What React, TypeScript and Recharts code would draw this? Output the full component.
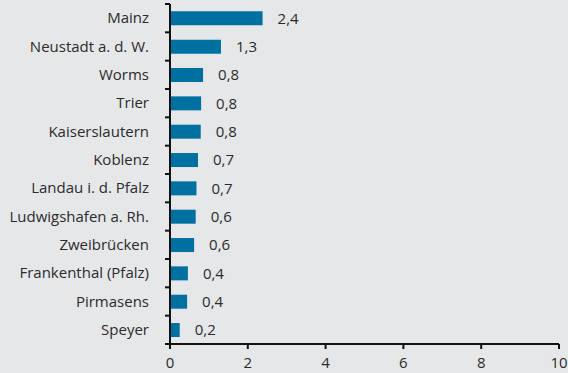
import React from 'react';
import { BarChart, Bar, XAxis, YAxis, LabelList } from 'recharts';

const cities = [
  'Mainz',
  'Neustadt a. d. W.',
  'Worms',
  'Trier',
  'Kaiserslautern',
  'Koblenz',
  'Landau i. d. Pfalz',
  'Ludwigshafen a. Rh.',
  'Zweibrücken',
  'Frankenthal (Pfalz)',
  'Pirmasens',
  'Speyer',
];
const values = [2.38, 1.31, 0.85, 0.8, 0.79, 0.72, 0.68, 0.66, 0.62, 0.46, 0.44, 0.25];
const valueLabels = ['2,4', '1,3', '0,8', '0,8', '0,8', '0,7', '0,7', '0,6', '0,6', '0,4', '0,4', '0,2'];
const xTicks = [0, 2, 4, 6, 8, 10];

const W = 568;
const H = 373;
const margin = { top: 4, right: 9, left: 0, bottom: 0 };
const yAxisWidth = 170;
const xAxisHeight = 29;
const band = (H - margin.top - margin.bottom - xAxisHeight) / cities.length;

const font = '"Open Sans", sans-serif';
const textColor = '#2b2b2b';
const axisColor = '#111111';
const lineW = 2;

const CityTick = (props: any) => {
  const { y, payload, index } = props;
  const x = yAxisWidth + margin.left;
  const last = index === cities.length - 1;
  return (
    <g>
      <line x1={x - 5} x2={x} y1={y - band / 2} y2={y - band / 2} stroke={axisColor} strokeWidth={lineW} />
      {last && <line x1={x - 5} x2={x} y1={y + band / 2} y2={y + band / 2} stroke={axisColor} strokeWidth={lineW} />}
      <text x={x - 21} y={y} dy="0.35em" textAnchor="end" fontSize={15} fontFamily={font} fill={textColor}>
        {payload.value}
      </text>
    </g>
  );
};

export default function App() {
  const data = cities.map((c, i) => ({ city: c, value: values[i], label: valueLabels[i] }));
  return (
    <div style={{ position: 'absolute', left: 0, top: 0, width: W, height: H, background: '#e6e7e9' }}>
      <BarChart width={W} height={H} data={data} layout="vertical" margin={margin} barCategoryGap="26%">
        <XAxis
          type="number"
          domain={[0, 10]}
          ticks={xTicks}
          height={xAxisHeight}
          axisLine={{ stroke: axisColor, strokeWidth: lineW }}
          tickLine={{ stroke: axisColor, strokeWidth: lineW }}
          tickSize={5}
          tick={{ fontSize: 15, fontFamily: font, fill: textColor }}
          tickMargin={8}
          interval={0}
        />
        <YAxis
          type="category"
          dataKey="city"
          width={yAxisWidth}
          axisLine={{ stroke: axisColor, strokeWidth: lineW }}
          tickLine={false}
          tick={<CityTick />}
          interval={0}
        />
        <Bar dataKey="value" fill="#0070a1" isAnimationActive={false}>
          <LabelList
            dataKey="label"
            position="right"
            offset={15}
            style={{ fontSize: 15, fontFamily: font, fill: textColor }}
          />
        </Bar>
      </BarChart>
    </div>
  );
}
